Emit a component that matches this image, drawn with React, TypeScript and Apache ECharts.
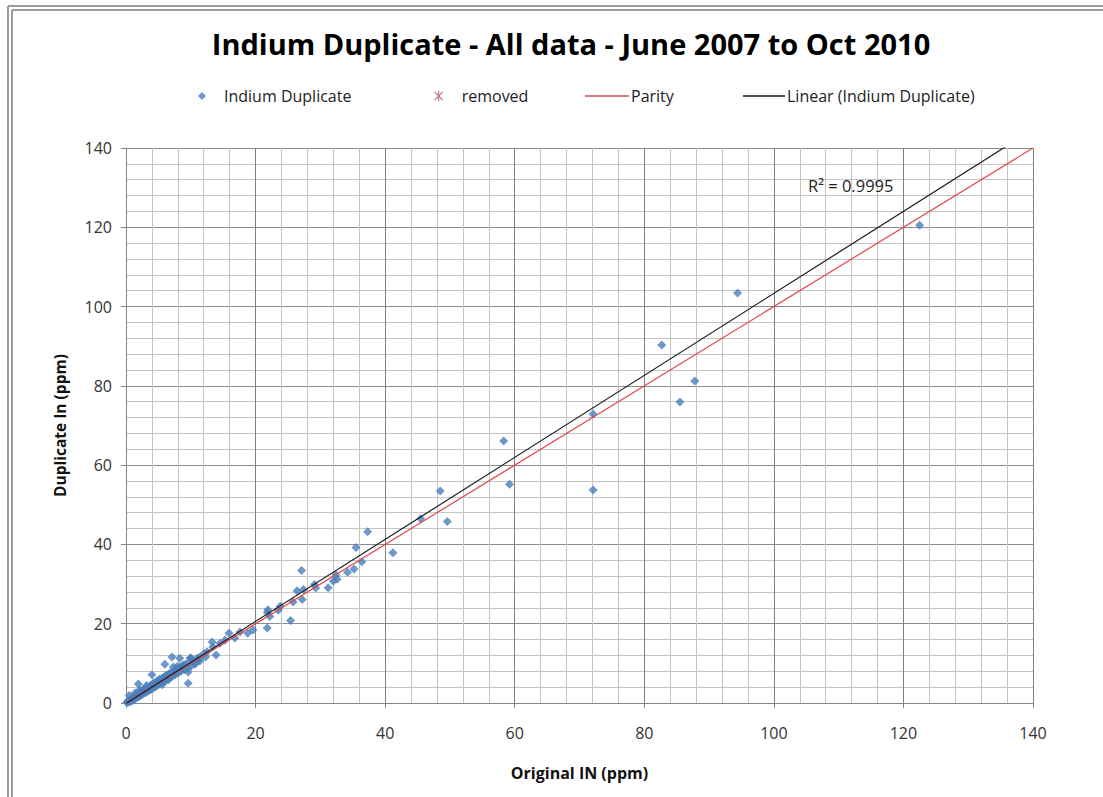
import React, { useEffect, useRef } from "react";
import * as echarts from "echarts";

const titleText = "Indium Duplicate - All data - June 2007 to Oct 2010";
const xAxisName = "Original IN (ppm)";
const yAxisName = "Duplicate In (ppm)";
const r2Label = "R\u00B2 = 0.9995";

// Original IN (ppm)
const originalIn = [
  122.5, 94.4, 82.7, 87.8, 85.5, 72.1, 72.1, 58.3, 59.2, 48.5, 49.6, 45.5, 41.2, 37.3, 35.5,
  36.4, 35.2, 34.2, 32.4, 32.6, 32.0, 31.2, 29.1, 29.3, 27.1, 27.4, 26.4, 27.2, 25.8, 23.8,
  23.5, 21.9, 21.8, 22.2, 25.4, 21.8, 19.6, 18.8, 17.6, 15.9, 16.8, 15.3, 14.5, 13.3, 13.4,
  12.5, 13.9, 11.4, 9.9, 11.1, 6.0, 8.3, 7.3, 9.6, 9.6, 4.0, 1.9, 4.9, 3.4, 1.4,
  7.1, 10.0, 0.1, 0.3, 0.4, 0.6, 0.7, 0.9, 1.0, 1.1, 1.2, 1.4, 1.5, 1.6, 1.8,
  1.9, 2.0, 2.2, 2.3, 2.4, 2.6, 2.7, 2.9, 3.0, 3.1, 3.3, 3.5, 3.6, 3.8, 3.9,
  4.1, 4.2, 4.4, 4.6, 4.8, 5.0, 5.1, 5.3, 5.5, 5.7, 5.9, 6.0, 6.2, 6.4, 6.6,
  6.8, 7.0, 7.2, 7.4, 7.6, 7.8, 8.0, 8.3, 8.5, 8.7, 9.0, 9.2, 9.5, 9.8, 10.0,
  10.3, 10.6, 11.0, 11.4, 12.0, 12.3, 0.5, 2.1, 5.6, 8.9, 3.2, 6.5, 7.9, 10.8
];

// Duplicate In (ppm)
const duplicateIn = [
  120.5, 103.4, 90.3, 81.2, 75.9, 72.9, 53.7, 66.1, 55.2, 53.5, 45.8, 46.5, 37.9, 43.2, 39.2,
  35.6, 33.8, 33.0, 32.3, 31.2, 30.7, 29.1, 29.9, 29.0, 33.4, 28.6, 28.3, 26.1, 25.5, 24.4,
  23.4, 23.5, 22.8, 21.8, 20.8, 18.9, 18.4, 17.6, 17.9, 17.6, 16.4, 15.9, 15.1, 15.4, 14.1,
  12.9, 12.1, 11.6, 11.3, 10.8, 9.8, 11.3, 9.1, 7.8, 5.0, 7.1, 4.8, 5.0, 3.3, 2.5,
  11.6, 11.4, 0.2, 0.1, 0.6, 0.3, 0.9, 0.5, 1.2, 0.8, 1.6, 1.0, 1.9, 1.3, 2.2,
  1.5, 2.6, 1.8, 2.9, 2.1, 3.4, 2.4, 3.0, 2.6, 3.9, 2.9, 4.0, 3.2, 4.5, 3.5,
  4.8, 3.8, 5.2, 4.1, 5.5, 4.6, 6.0, 5.0, 6.2, 5.2, 6.6, 5.6, 7.0, 6.0, 7.3,
  6.3, 7.8, 6.8, 8.0, 7.1, 8.6, 7.5, 9.0, 8.0, 9.4, 8.4, 9.8, 8.8, 10.4, 9.3,
  10.8, 9.8, 11.3, 10.6, 12.4, 11.6, 1.9, 3.3, 4.6, 9.6, 4.4, 5.8, 9.2, 10.1
];

const parityLine = [
  [0, 0],
  [140, 140],
];
const trendLine = [
  [0, -0.1],
  [140, 144.7],
];

const FONT = "'Open Sans', sans-serif";
const BLUE = "#4a7ebb";
const RED = "#e0474c";
const BLACK = "#1a1a1a";
const ASTERISK = "path://M0,0L10,10M10,0L0,10M5,-1L5,11";

export default function App() {
  const ref = useRef<HTMLDivElement>(null);
  useEffect(() => {
    const chart = echarts.init(ref.current!, null, { renderer: "svg" });
    const points = originalIn.map((x, i) => [x, duplicateIn[i]]);
    const legendText = { fontFamily: FONT, fontSize: 16, color: "#222" };
    chart.setOption({
      animation: false,
      backgroundColor: "#ffffff",
      title: {
        text: titleText,
        left: 566,
        textAlign: "center",
        top: 24,
        textStyle: { fontFamily: FONT, fontSize: 29, fontWeight: "bold", color: "#000" },
      },
      legend: [
        {
          data: [{ name: "Indium Duplicate", icon: "diamond", itemStyle: { color: BLUE } }],
          left: 198,
          top: 88,
          padding: 0,
          itemWidth: 8,
          itemHeight: 8,
          textStyle: { ...legendText, padding: [0, 0, 0, 13] },
        },
        {
          data: [
            {
              name: "removed",
              icon: ASTERISK,
              itemStyle: { color: "none", borderColor: "#b0505a", borderWidth: 1.2 },
            },
          ],
          left: 432,
          top: 88,
          padding: 0,
          itemWidth: 10,
          itemHeight: 10,
          textStyle: { ...legendText, padding: [0, 0, 0, 13] },
        },
        {
          data: [{ name: "Parity", icon: "rect", itemStyle: { color: RED } }],
          left: 585,
          top: 88,
          padding: 0,
          itemWidth: 44,
          itemHeight: 1.3,
          textStyle: { ...legendText, padding: [0, 0, 0, -3] },
        },
        {
          data: [{ name: "Linear (Indium Duplicate)", icon: "rect", itemStyle: { color: BLACK } }],
          left: 743,
          top: 88,
          padding: 0,
          itemWidth: 42,
          itemHeight: 1.3,
          textStyle: { ...legendText, padding: [0, 0, 0, -3] },
        },
      ],
      grid: { left: 126, right: 70, top: 148, bottom: 94, containLabel: false },
      xAxis: {
        type: "value",
        min: 0,
        max: 140,
        interval: 20,
        name: xAxisName,
        nameLocation: "middle",
        nameGap: 62,
        nameTextStyle: { fontFamily: FONT, fontSize: 16, fontWeight: "bold", color: "#111" },
        axisLine: { lineStyle: { color: "#868686" } },
        axisTick: { show: true, length: 5, lineStyle: { color: "#868686" } },
        axisLabel: { fontFamily: FONT, fontSize: 16, color: "#333", margin: 22 },
        splitLine: { show: true, lineStyle: { color: "#808080", width: 1 } },
        minorTick: { show: false, splitNumber: 5 },
        minorSplitLine: { show: true, lineStyle: { color: "#c4c4c4", width: 1 } },
      },
      yAxis: {
        type: "value",
        min: 0,
        max: 140,
        interval: 20,
        name: yAxisName,
        nameLocation: "middle",
        nameGap: 58,
        nameTextStyle: { fontFamily: FONT, fontSize: 15.5, fontWeight: "bold", color: "#111" },
        axisLine: { show: true, lineStyle: { color: "#868686" } },
        axisTick: { show: true, length: 5, lineStyle: { color: "#868686" } },
        axisLabel: { fontFamily: FONT, fontSize: 16, color: "#333", margin: 14 },
        splitLine: { show: true, lineStyle: { color: "#8c8c8c", width: 1 } },
        minorTick: { show: false, splitNumber: 5 },
        minorSplitLine: { show: true, lineStyle: { color: "#c4c4c4", width: 1 } },
      },
      series: [
        {
          name: "Indium Duplicate",
          type: "scatter",
          symbol: "diamond",
          symbolSize: 9,
          itemStyle: { color: BLUE },
          data: points,
          z: 3,
        },
        {
          name: "removed",
          type: "scatter",
          symbol: ASTERISK,
          itemStyle: { color: "none", borderColor: "#b0505a", borderWidth: 1.2 },
          data: [],
        },
        {
          name: "Parity",
          type: "line",
          symbol: "none",
          lineStyle: { color: RED, width: 1.2 },
          itemStyle: { color: RED },
          data: parityLine,
          z: 4,
        },
        {
          name: "Linear (Indium Duplicate)",
          type: "line",
          symbol: "none",
          clip: true,
          lineStyle: { color: BLACK, width: 1.2 },
          itemStyle: { color: BLACK },
          data: trendLine,
          z: 5,
        },
      ],
      graphic: [
        { type: "line", shape: { x1: 8, y1: 6, x2: 8, y2: 797 }, style: { stroke: "#9a9a9a", lineWidth: 2 } },
        { type: "line", shape: { x1: 12, y1: 10, x2: 12, y2: 797 }, style: { stroke: "#9a9a9a", lineWidth: 2 } },
        { type: "line", shape: { x1: 8, y1: 6, x2: 1103, y2: 6 }, style: { stroke: "#9a9a9a", lineWidth: 2 } },
        { type: "line", shape: { x1: 12, y1: 10, x2: 1103, y2: 10 }, style: { stroke: "#9a9a9a", lineWidth: 2 } },
        {
          type: "text",
          x: 808,
          y: 185,
          style: {
            text: r2Label,
            font: "16.5px 'Open Sans', sans-serif",
            fill: "#222",
            verticalAlign: "middle",
          },
          z: 10,
        },
      ],
    });
    return () => chart.dispose();
  }, []);
  return (
    <div
      ref={ref}
      style={{ position: "absolute", left: 0, top: 0, width: 1103, height: 797 }}
    />
  );
}
